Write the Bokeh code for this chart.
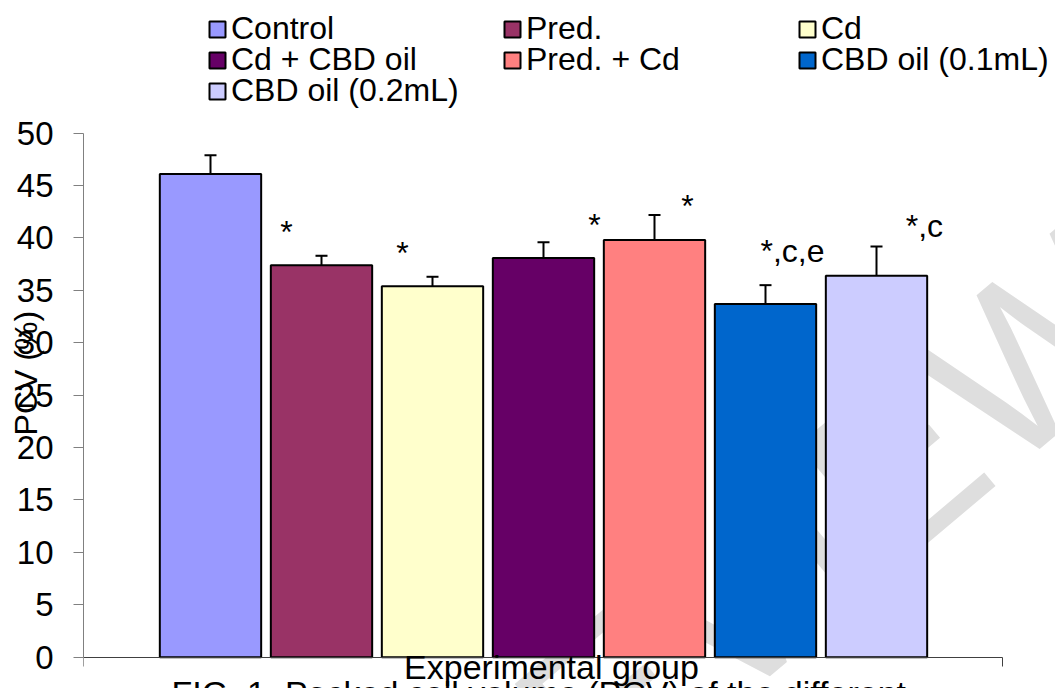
import math
from bokeh.plotting import figure
from bokeh.models import (ColumnDataSource, Range1d, FixedTicker, Whisker, TeeHead,
                          Label, Legend, LegendItem, LinearAxis)
from bokeh.core.properties import value
from bokeh.embed import file_html
from bokeh.resources import INLINE

# ---- data ----
groups = ["Control", "Pred.", "Cd", "Cd + CBD oil", "Pred. + Cd", "CBD oil (0.1mL)", "CBD oil (0.2mL)"]
pcv_mean = [46.1, 37.4, 35.4, 38.1, 39.8, 33.7, 36.4]
pcv_err = [1.8, 0.9, 0.9, 1.5, 2.4, 1.8, 2.8]
colors = ["#9999FF", "#993366", "#FFFFCC", "#660066", "#FF8080", "#0066CC", "#CCCCFF"]
sig_text = ["", "*", "*", "*", "*", "*,c,e", "*,c"]
sig_y = [0, 40.57, 38.61, 41.28, 43.1, 38.8, 41.1]
sig_dx = [0, -0.315, -0.27, 0.459, 0.297, 0.243, 0.432]
y_ticks = [0, 5, 10, 15, 20, 25, 30, 35, 40, 45, 50]
legend_rows = [[0, 1, 2], [3, 4, 5], [6]]

FONT = "Liberation Sans"
FS = "32px"
FS_BOTTOM = "34px"

xs = list(range(len(groups)))
src = ColumnDataSource(dict(x=xs, top=pcv_mean,
                            upper=[m + e for m, e in zip(pcv_mean, pcv_err)],
                            color=colors, name=groups))
sig_src = ColumnDataSource(dict(x=[i + d for i, d in zip(xs, sig_dx)], y=sig_y, t=sig_text))

# x: one unit per bar slot; axis drawn between AX0 and AX1
X0, X1 = -1.1441, 7.6126
AX0, AX1 = -1.1441, 7.1351
Y0, Y1 = -2.987, 62.28

p = figure(title=None, frame_width=972, frame_height=684, min_border_left=83, min_border_right=0,
           min_border_top=4, min_border_bottom=0,
           x_range=Range1d(X0, X1), y_range=Range1d(Y0, Y1),
           x_axis_location=None, y_axis_location="left",
           output_backend="svg", toolbar_location=None)
p.outline_line_color = None
p.xgrid.visible = False
p.ygrid.visible = False
p.background_fill_color = "white"
p.border_fill_color = "white"

# watermark
wm = Label(x=5.05, y=8.2, text="REVIEW", angle=0.70, text_align="center",
           text_baseline="middle", text_font=FONT, text_font_size="230px",
           text_color="#dedede", level="underlay")
p.add_layout(wm)

bars = p.vbar(x="x", top="top", width=0.913, source=src, fill_color="color",
              line_color="black", line_width=2)

wh = Whisker(source=src, base="x", upper="upper", lower="top", dimension="height",
             line_color="black", line_width=2,
             upper_head=TeeHead(size=12, line_color="black", line_width=2), lower_head=None)
wh.level = "annotation"
p.add_layout(wh)

p.text(x="x", y="y", text="t", source=sig_src, text_font=value(FONT), text_font_size=FS,
       text_align="center", text_baseline="alphabetic", text_color="black")

# y axis
p.yaxis.ticker = FixedTicker(ticks=y_ticks)
p.yaxis.bounds = (0, 50)
p.yaxis.axis_line_color = "#808080"
p.yaxis.major_tick_line_color = "#808080"
p.yaxis.major_tick_out = 10
p.yaxis.major_tick_in = 0
p.yaxis.minor_tick_line_color = None
p.yaxis.major_label_standoff = 20
p.yaxis.major_label_text_font = FONT
p.yaxis.major_label_text_font_size = "33px"
p.yaxis.major_label_text_color = "black"
p.yaxis.axis_label = "PCV (%)" + "\u00a0" * 6
p.yaxis.axis_label_standoff = -30
p.yaxis.axis_label_text_font = FONT
p.yaxis.axis_label_text_font_size = FS
p.yaxis.axis_label_text_font_style = "normal"
p.yaxis.axis_label_text_color = "black"

# x axis, drawn at y = 0 inside the frame
xax = LinearAxis(fixed_location=0, bounds=(AX0, AX1), ticker=FixedTicker(ticks=[AX0, AX1]),
                 axis_line_color="#404040", major_tick_line_color="#404040",
                 major_tick_in=9, major_tick_out=0, minor_tick_line_color=None,
                 major_label_standoff=0, major_label_text_font_size="0px",
                 major_label_overrides={AX0: "", AX1: ""})
p.add_layout(xax, "above")

# axis title and caption
p.add_layout(Label(x=3.072, y=-0.98, text="Experimental group", text_align="center",
                   text_baseline="alphabetic", text_font=FONT, text_font_size=FS_BOTTOM,
                   text_color="black"))
p.add_layout(Label(x=-0.351, y=-3.37, text="FIG. 1. Packed cell volume (PCV) of the different",
                   text_align="left", text_baseline="alphabetic", text_font=FONT,
                   text_font_size=FS_BOTTOM, text_color="black"))

# legend, one row per Legend so the row pitch matches
row_vy = [641, 610, 579]
for row, vy in zip(legend_rows, row_vy):
    items = [LegendItem(label=groups[i], renderers=[bars], index=i) for i in row]
    leg = Legend(items=items, location=(124, vy), orientation="horizontal",
                 glyph_width=20, glyph_height=20, label_standoff=4, label_width=271,
                 label_height=32, spacing=0, padding=0, margin=0,
                 border_line_color=None, background_fill_alpha=0,
                 label_text_font=FONT, label_text_font_size=FS, label_text_color="black")
    p.add_layout(leg)

open("out.html", "w").write(file_html(p, INLINE))
